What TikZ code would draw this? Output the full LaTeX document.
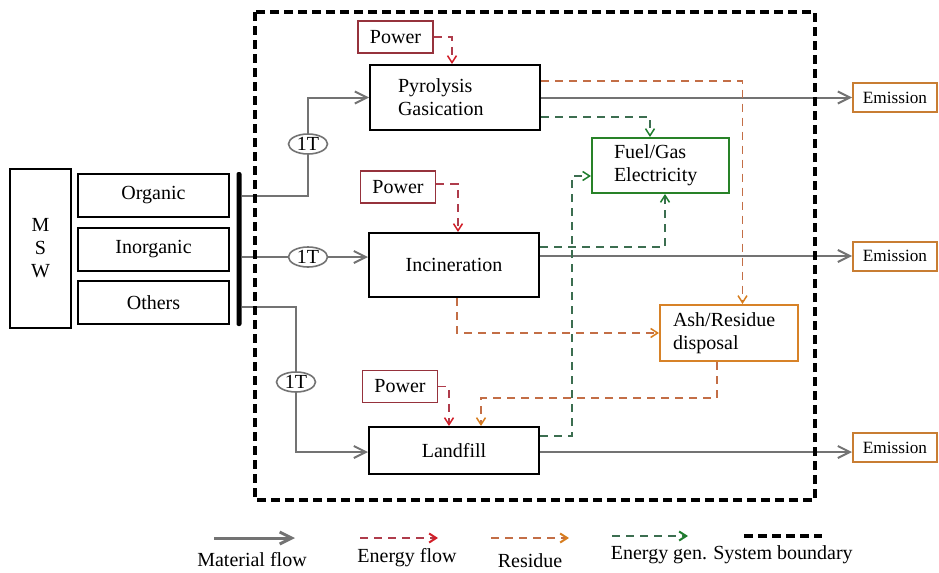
\documentclass[tikz,border=0pt]{standalone}
\usepackage{fontspec}
\setmainfont{Liberation Serif}
\usetikzlibrary{arrows.meta, calc, positioning, shapes.geometric}

\definecolor{matgray}{RGB}{115,115,115}
\definecolor{enred}{RGB}{175,60,75}
\definecolor{enredtip}{RGB}{210,30,40}
\definecolor{resbrown}{RGB}{195,110,70}
\definecolor{resorange}{RGB}{215,125,30}
\definecolor{gengreen}{RGB}{60,110,80}
\definecolor{gengreentip}{RGB}{30,125,45}
\definecolor{pwframe}{RGB}{150,50,60}
\definecolor{fuelframe}{RGB}{40,130,40}
\definecolor{ashframe}{RGB}{215,130,40}
\definecolor{emframe}{RGB}{200,125,50}

\begin{document}
\begin{tikzpicture}[x=0.5pt, y=-0.5pt, font=\fontsize{10}{11.5}\selectfont,
    box/.style={draw, line width=1pt, inner sep=0pt},
    powerbox/.style={draw=pwframe, line width=0.75pt, minimum width=37.5pt, minimum height=16pt, inner sep=0pt},
    emission/.style={draw=emframe, line width=1pt, minimum width=42pt, minimum height=14.5pt, inner sep=0pt, font=\fontsize{8.6}{10}\selectfont},
    onet/.style={draw=matgray, ellipse, line width=0.8pt, minimum width=19.5pt, minimum height=10pt, inner sep=0pt},
    mflow/.style={draw=matgray, line width=1pt, -{Straight Barb[length=6pt, width=6pt]}},
    eflow/.style={draw=enred, line width=0.75pt, dash pattern=on 4pt off 3pt, -{Straight Barb[length=3.5pt, width=4.5pt, color=enredtip]}},
    rflow/.style={draw=resbrown, line width=0.75pt, dash pattern=on 4pt off 3pt, -{Straight Barb[length=3.5pt, width=4.5pt, color=resorange]}},
    gflow/.style={draw=gengreen, line width=0.75pt, dash pattern=on 4pt off 3pt, -{Straight Barb[length=3.5pt, width=4.5pt, color=gengreentip]}},
    sysbound/.style={draw=black, line width=2pt, dash pattern=on 4.5pt off 2.5pt}]

\useasboundingbox (0,0) rectangle (939,573);

\node[box, minimum width=30.5pt, minimum height=79.5pt, align=center] (msw) at (40.5,248.5) {M\\S\\W};

\begin{scope}[minimum width=75.5pt, minimum height=21.5pt]
    \node[box] (organic) at (153.5,195.5) {Organic};
    \node[box] (inorganic) at (153.5,249) {Inorganic};
    \node[box] (others) at (153.5,302.5) {Others};
\end{scope}

\node[fill=black, rounded corners=1pt, minimum width=2.5pt, minimum height=77pt, inner sep=0pt] (bar) at (239,249) {};

\node[onet] (t1) at (308,144) {1T};
\node[onet] (t2) at (308,257) {1T};
\node[onet] (t3) at (296,382) {1T};

\node[box, minimum width=85pt, minimum height=32.5pt, text width=57pt, inner xsep=14pt, align=left] (pyro) at (455,97.5) {Pyrolysis\\Gasication};
\node[box, minimum width=85pt, minimum height=32pt] (incin) at (454,265) {Incineration};
\node[box, minimum width=85pt, minimum height=23.5pt] (land) at (454,450.5) {Landfill};

\node[powerbox] (pw1) at (395.5,37) {Power};
\node[powerbox] (pw2) at (398,187) {Power};
\node[powerbox] (pw3) at (400,386.5) {Power};

\node[box, draw=fuelframe, minimum width=68.5pt, minimum height=27.5pt, text width=46.5pt, inner xsep=11pt, align=left] (fuel) at (660.5,165.5) {Fuel/Gas\\Electricity};
\node[box, draw=ashframe, minimum width=69pt, minimum height=28pt, text width=56pt, inner xsep=6.5pt, align=left] (ash) at (729,333) {Ash/Residue\\disposal};

\node[emission] (em1) at (895,97.5) {Emission};
\node[emission] (em2) at (895,256) {Emission};
\node[emission] (em3) at (895,447.5) {Emission};

\draw[matgray, line width=1pt] (bar.east |- organic) -| (t1);
\draw[mflow] (t1) |- (pyro.west);
\draw[matgray, line width=1pt] (bar.east |- t2) -- (t2);
\draw[mflow] (t2) -- (incin.west |- t2);
\draw[matgray, line width=1pt] ([yshift=-2pt]bar.east |- others) -| (t3);
\draw[mflow] (t3) |- ([yshift=-0.75pt]land.west);

\draw[mflow] (pyro.east) -- (em1.west);
\draw[mflow] (incin.east |- em2.west) -- (em2.west);
\draw[mflow] ([yshift=-0.75pt]land.east) -- ([yshift=-0.75pt]land.east -| em3.west);

\draw[eflow] (pw1.east) -| ([xshift=-1.5pt]pyro.north);
\draw[eflow] ([yshift=1.5pt]pw2.east) -| ([xshift=2pt]incin.north);
\draw[eflow] (pw3.east) -| ([xshift=-2.5pt]land.north);

\draw[rflow] ([yshift=8.25pt]pyro.east) -| ([xshift=6.75pt]ash.north);
\draw[rflow] ([xshift=1.5pt]incin.south) |- (ash.west);
\draw[rflow] ([xshift=-6pt]ash.south) -- ++(0,-18pt) -| ([xshift=13.5pt]land.north);

\draw[gflow] ([yshift=-9.75pt]pyro.east) -| ([xshift=-5.25pt]fuel.north);
\draw[gflow] ([yshift=9pt]incin.east) -| ([xshift=2.25pt]fuel.south);
\draw[gflow] ([yshift=7.25pt]land.east) -- ++(16pt,0) |- ([yshift=-5.25pt]fuel.west);

\draw[sysbound] (255,12) rectangle (815,500);

\coordinate (lmat-a) at (214,538);
\coordinate (lmat-b) at (295,538);
\coordinate (len-a) at (360,538);
\coordinate (len-b) at (438,538);
\coordinate (lres-a) at (491,538);
\coordinate (lres-b) at (569,538);
\coordinate (lgen-a) at (612,536);
\coordinate (lgen-b) at (688,536);
\coordinate (lsys-a) at (744,536);
\coordinate (lsys-b) at (822,536);

\draw[mflow, line width=1.5pt] (lmat-a) -- (lmat-b);
\draw[eflow, line width=1pt] (len-a) -- (len-b);
\draw[rflow, line width=1pt] (lres-a) -- (lres-b);
\draw[gflow, line width=1pt] (lgen-a) -- (lgen-b);
\draw[sysbound] (lsys-a) -- (lsys-b);

\node (lmat) at (252,560) {Material flow};
\node (len) at (407,558) {Energy flow};
\node (lres) at (530,561) {Residue};
\node (lgen) at (659,555) {Energy gen.};
\node (lsys) at (783,555) {System boundary};

\end{tikzpicture}
\end{document}
